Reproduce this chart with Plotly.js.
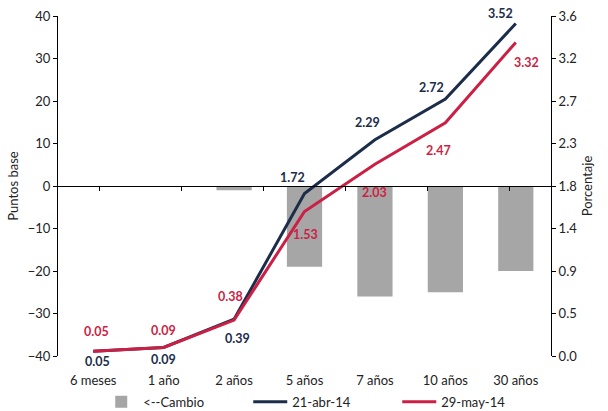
<!DOCTYPE html>
<html><head><meta charset="utf-8">
<script src="https://cdn.plot.ly/plotly-3.0.1.min.js"></script>
<style>html,body{margin:0;padding:0;background:#fff}#c{width:608px;height:411px}</style>
</head><body><div id="c"></div>
<script>
const categories = ["6 meses","1 año","2 años","5 años","7 años","10 años","30 años"];
const cambio = [0, 0, -1, -19, -26, -25, -20];
const abr = [0.05, 0.09, 0.39, 1.72, 2.29, 2.72, 3.52];
const may = [0.05, 0.09, 0.38, 1.53, 2.03, 2.47, 3.32];
const leftTicks = [-40,-30,-20,-10,0,10,20,30,40];
const rightTickVals = [0,0.45,0.9,1.35,1.8,2.25,2.7,3.15,3.6];
const rightTickText = ["0.0","0.5","0.9","1.4","1.8","2.3","2.7","3.2","3.6"];

// label offsets (pixels) for the value labels
const abrShift = [[4,10],[0,12],[3,19],[-12,-16],[-7,-17],[-14,-12],[-15,-10]];
const mayShift = [[3,-20],[0,-17],[-4,-24],[1,23],[0,28],[-7,28],[11,20]];

const navy = "#1c2d4a", red = "#cc1f45", grey = "#a6a6a6";
const font = "Lato, 'Open Sans', sans-serif";

const traces = [
  {type:"bar", x:categories, y:cambio, name:"<--Cambio", marker:{color:grey}, yaxis:"y", xaxis:"x"},
  {type:"scatter", mode:"lines", x:categories, y:abr, name:"21-abr-14", yaxis:"y2", xaxis:"x",
   line:{color:navy, width:3}},
  {type:"scatter", mode:"lines", x:categories, y:may, name:"29-may-14", yaxis:"y2", xaxis:"x",
   line:{color:red, width:3}},
  {type:"scatter", mode:"none", x:categories, y:cambio, xaxis:"x2", yaxis:"y", showlegend:false, hoverinfo:"skip"}
];

const annotations = [];
function addLabels(vals, shifts, color){
  vals.forEach((v,i)=>{
    annotations.push({x:categories[i], y:v, xref:"x", yref:"y2", text:v.toFixed(2), showarrow:false,
      xshift:shifts[i][0], yshift:-shifts[i][1],
      font:{color:color, size:12.5, family:font, weight:"bold"}});
  });
}
addLabels(abr, abrShift, navy);
addLabels(may, mayShift, red);

const layout = {
  width:608, height:411,
  margin:{l:58, r:57, t:16, b:55, autoexpand:false},
  paper_bgcolor:"#fff", plot_bgcolor:"#fff",
  font:{family:font, size:13, color:"#222"},
  bargap:0.5,
  showlegend:true,
  annotations:annotations,
  legend:{orientation:"h", x:0.537, xanchor:"center", y:-0.135, yanchor:"middle", font:{size:13}, traceorder:"normal",
          bgcolor:"rgba(0,0,0,0)", itemwidth:34, entrywidth:100, entrywidthmode:"pixels"},
  xaxis:{type:"category", showline:false, ticks:"outside", ticklen:12, tickcolor:"rgba(0,0,0,0)", showgrid:false, zeroline:false, tickfont:{size:13}},
  xaxis2:{type:"category", overlaying:"x", anchor:"free", position:0.5, side:"bottom", showline:true, linecolor:"#000", linewidth:1,
          ticks:"outside", tickson:"boundaries", ticklen:4, tickcolor:"#000", showticklabels:false, showgrid:false, zeroline:false},
  yaxis:{range:[-40,40], tickvals:leftTicks, ticks:"outside", ticklen:4, tickcolor:"#000", showline:true, linecolor:"#000", linewidth:1,
         showgrid:false, zeroline:false, title:{text:"Puntos base", font:{size:13}, standoff:6}},
  yaxis2:{range:[0,3.6], overlaying:"y", side:"right", tickvals:rightTickVals, ticktext:rightTickText, ticks:"outside", ticklen:4,
          tickcolor:"#000", showline:true, linecolor:"#000", linewidth:1, showgrid:false, zeroline:false,
          title:{text:"Porcentaje", font:{size:13}, standoff:6}}
};
Plotly.newPlot("c", traces, layout, {displayModeBar:false, staticPlot:true});
</script></body></html>
